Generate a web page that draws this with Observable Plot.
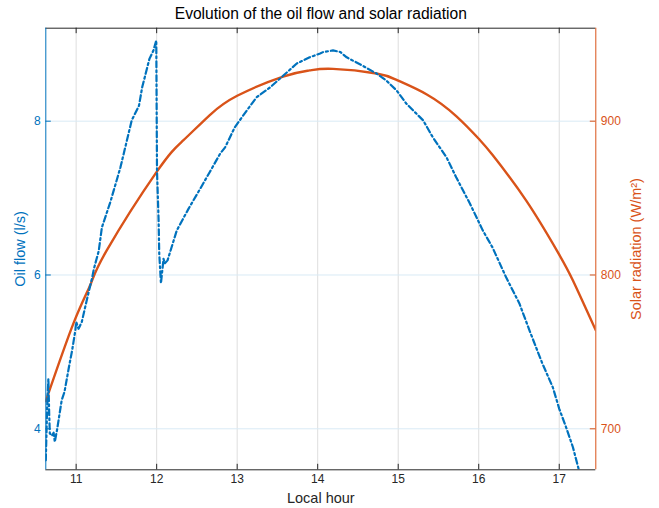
<!DOCTYPE html>
<html><head><meta charset="utf-8">
<script src="https://cdn.jsdelivr.net/npm/d3@7"></script>
<script src="https://cdn.jsdelivr.net/npm/@observablehq/plot@0.6"></script>
<style>body{margin:0;background:#fff;}</style>
</head><body><div id="chart"></div>
<script>
// Oil flow (l/s) vs local hour
const hours = [10.623,10.64,10.655,10.665,10.673,10.70,10.72,10.735,10.765,10.82,10.855,10.91,10.95,10.99,11.00,11.03,11.07,11.14,11.20,11.22,11.28,11.32,11.425,11.55,11.69,11.78,11.82,11.91,11.96,11.995,12.004,12.024,12.032,12.053,12.085,12.10,12.135,12.25,12.395,12.54,12.66,12.79,12.85,12.97,13.12,13.24,13.41,13.57,13.74,13.90,14.03,14.07,14.19,14.28,14.36,14.56,14.73,14.85,14.98,15.10,15.31,15.43,15.60,15.72,15.76,15.89,16.05,16.17,16.34,16.505,16.63,16.79,16.92,17.0,17.085,17.17,17.24];
const oilFlow = [3.59,4.3,4.65,4.2,3.94,3.91,3.95,3.83,4.00,4.37,4.48,4.80,5.02,5.28,5.39,5.30,5.39,5.71,5.97,6.08,6.31,6.62,6.95,7.40,8.01,8.20,8.44,8.81,8.92,9.05,7.36,6.71,6.28,5.89,6.21,6.15,6.19,6.58,6.86,7.12,7.34,7.58,7.66,7.92,8.14,8.31,8.44,8.59,8.75,8.83,8.88,8.90,8.92,8.90,8.83,8.72,8.62,8.53,8.40,8.23,8.01,7.79,7.53,7.27,7.19,6.93,6.58,6.36,5.97,5.63,5.28,4.85,4.54,4.26,4.02,3.76,3.48];
// Solar radiation (W/m²) vs local hour
const solarHours = [10.623,10.97,11.18,11.38,12.0,12.33,12.66,13.0,13.57,13.90,14.19,14.73,14.985,15.35,15.72,16.01,16.175,16.59,16.98,17.17,17.454];
const solarRadiation = [718,769,794,816,867,887.5,904,916.5,929,933,934,931,926.7,917.5,903.3,888,877.8,848.3,815,796.4,764];

const xTicks = [11,12,13,14,15,16,17];
const oilTicks = [4,6,8];
const solarTicks = [700,800,900];
const xDomain = [10.623,17.454];
const oilDomain = [3.467,9.209];
const toOil = s => 4 + (s - 700) / 50;
const fromOil = v => String(Math.round(700 + (v - 4) * 50));

const titleText = "Evolution of the oil flow and solar radiation";
const xLabel = "Local hour";
const yLabel = "Oil flow (l/s)";
const y2Label = "Solar radiation (W/m²)";

const blue = "#0072BD", orange = "#D95319", dark = "#262626";
const W = 659, H = 508, mT = 27.7, mR = 63.7, mB = 38.7, mL = 45.3;
const innerW = W - mL - mR, innerH = H - mT - mB;
const tk = 5.5;

const oilData = hours.map((h, i) => ({h, v: oilFlow[i]}));
const solarData = solarHours.map((h, i) => ({h, v: toOil(solarRadiation[i])}));

const chart = Plot.plot({
  width: W, height: H,
  marginTop: mT, marginRight: mR, marginBottom: mB, marginLeft: mL,
  style: {fontFamily: "'Liberation Sans', Arial, sans-serif", fontSize: "12px", background: "#fff"},
  x: {domain: xDomain, axis: null},
  y: {domain: oilDomain, axis: null},
  marks: [
    Plot.gridX(xTicks, {stroke: "#dedede", strokeOpacity: 1}),
    Plot.gridY(oilTicks, {stroke: "#d9eaf5", strokeOpacity: 1}),
    Plot.line(solarData, {x: "h", y: "v", stroke: orange, strokeWidth: 2.4, curve: "natural", clip: true}),
    Plot.line(oilData, {x: "h", y: "v", stroke: blue, strokeWidth: 2.2, strokeDasharray: "6,3,2,3", clip: true}),
    // frame
    Plot.ruleY([oilDomain[0], oilDomain[1]], {stroke: dark, strokeWidth: 1}),
    Plot.ruleX([xDomain[0]], {stroke: blue, strokeWidth: 1}),
    Plot.ruleX([xDomain[1]], {stroke: orange, strokeWidth: 1}),
    // inward ticks
    Plot.tickX(xTicks, {x: d => d, insetTop: innerH - tk, stroke: dark}),
    Plot.tickX(xTicks, {x: d => d, insetBottom: innerH - tk, stroke: dark}),
    Plot.tickY(oilTicks, {y: d => d, insetRight: innerW - tk, stroke: blue}),
    Plot.tickY(solarTicks.map(toOil), {y: d => d, insetLeft: innerW - tk, stroke: orange}),
    // tick labels
    Plot.axisX(xTicks, {anchor: "bottom", tickSize: 0, tickPadding: 5, label: null, color: dark, fontSize: 12, tickFormat: d => String(d)}),
    Plot.axisY(oilTicks, {anchor: "left", tickSize: 0, tickPadding: 5, label: null, color: blue, fontSize: 12, tickFormat: d => String(d)}),
    Plot.axisY(solarTicks.map(toOil), {anchor: "right", tickSize: 0, tickPadding: 5, label: null, color: orange, fontSize: 12, tickFormat: fromOil}),
    // titles
    Plot.text([titleText], {frameAnchor: "top", dy: -14, lineAnchor: "middle", textAnchor: "middle", fontSize: 15.6, fill: "#000"}),
    Plot.text([xLabel], {frameAnchor: "bottom", dy: 29, lineAnchor: "middle", textAnchor: "middle", fontSize: 14.5, fill: dark}),
    Plot.text([yLabel], {frameAnchor: "left", dx: -25, rotate: -90, lineAnchor: "middle", textAnchor: "middle", fontSize: 14.5, fill: blue}),
    Plot.text([y2Label], {frameAnchor: "right", dx: 41, rotate: -90, lineAnchor: "middle", textAnchor: "middle", fontSize: 14.5, fill: orange})
  ]
});
document.getElementById("chart").appendChild(chart);
</script>
</body></html>
